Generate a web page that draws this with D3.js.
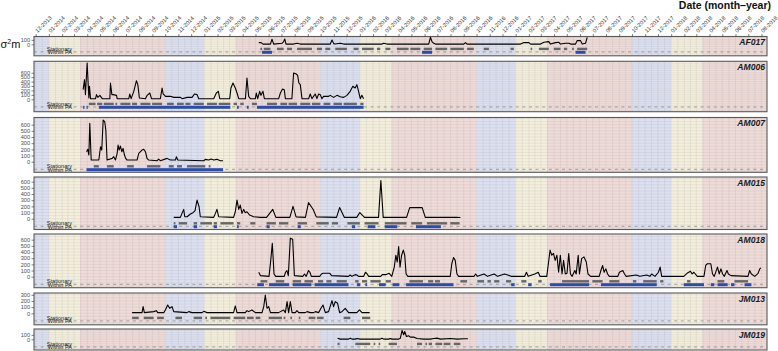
<!DOCTYPE html>
<html><head><meta charset="utf-8">
<script src="https://cdn.jsdelivr.net/npm/d3@7"></script>
<style>body{margin:0;background:#fff;} text{font-family:"Liberation Sans",Arial,Helvetica,sans-serif;}</style>
</head><body><svg id="c" width="778" height="351"></svg>
<script>
// ---------------- DATA ----------------
const monthTicks = ["12-2013","01-2014","02-2014","03-2014","04-2014","05-2014","06-2014","07-2014","08-2014","09-2014","10-2014","11-2014","12-2014",
"01-2015","02-2015","03-2015","04-2015","05-2015","06-2015","07-2015","08-2015","09-2015","10-2015","11-2015","12-2015",
"01-2016","02-2016","03-2016","04-2016","05-2016","06-2016","07-2016","08-2016","09-2016","10-2016","11-2016","12-2016",
"01-2017","02-2017","03-2017","04-2017","05-2017","06-2017","07-2017","08-2017","09-2017","10-2017","11-2017","12-2017",
"01-2018","02-2018","03-2018","04-2018","05-2018","06-2018","07-2018","08-2018"];
const individuals = ["AF017","AM006","AM007","AM015","AM018","JM013","JM019"];
const seasonNames = ["Oct-Dec","Jan-mid Mar","mid Mar-Sep"];
const seasonStarts = [["2013-10-01",0],["2014-01-01",1],["2014-03-15",2],["2014-10-01",0],["2015-01-01",1],["2015-03-15",2],
["2015-10-01",0],["2016-01-01",1],["2016-03-15",2],["2016-10-01",0],["2017-01-01",1],["2017-03-15",2],
["2017-10-01",0],["2018-01-01",1],["2018-03-15",2],["2018-10-01",0]];
const yTicksAF017 = [0,100];
const yTicksAM006 = [0,100,200,300,400,500,600];
const yTicksAM007 = [0,100,200,300,400,500,600];
const yTicksAM015 = [0,100,200,300,400,500,600];
const yTicksAM018 = [0,100,200,300,400,500,600];
const yTicksJM013 = [0,100,200,300];
const yTicksJM019 = [0,100];
const rowLabels = ["Stationary","Within PA"];

// sigma^2 series: [decimal year, value]
const lineAF017 = [[2015.350,38],[2015.365,38],[2015.377,5],[2015.425,5],[2015.435,113],[2015.446,5],[2015.500,23],[2015.510,60],[2015.517,120],[2015.525,5],[2015.574,5],[2015.596,23],[2015.617,5],[2015.810,5],[2015.821,98],[2015.832,15],[2015.842,5],[2015.874,23],[2015.896,5],[2016.143,5],[2016.153,23],[2016.174,5],[2016.442,5],[2016.453,158],[2016.463,60],[2016.474,23],[2016.485,5],[2016.667,5],[2016.678,38],[2016.688,5],[2017.031,5],[2017.053,38],[2017.085,38],[2017.096,5],[2017.160,5],[2017.181,45],[2017.213,60],[2017.224,5],[2017.256,38],[2017.278,45],[2017.288,5],[2017.320,23],[2017.342,23],[2017.353,5],[2017.385,5],[2017.395,83],[2017.417,83],[2017.428,5],[2017.449,23],[2017.460,158]];
const lineAM006 = [[2014.220,217],[2014.229,443],[2014.235,105],[2014.246,819],[2014.257,29],[2014.261,293],[2014.268,14],[2014.300,14],[2014.306,105],[2014.315,44],[2014.328,89],[2014.343,14],[2014.392,14],[2014.396,368],[2014.405,105],[2014.413,105],[2014.435,89],[2014.439,14],[2014.514,14],[2014.520,120],[2014.529,14],[2014.546,180],[2014.563,420],[2014.572,330],[2014.582,29],[2014.621,14],[2014.632,89],[2014.649,142],[2014.660,14],[2014.717,14],[2014.728,255],[2014.735,120],[2014.750,67],[2014.782,67],[2014.803,44],[2014.846,44],[2014.857,14],[2014.889,44],[2014.921,44],[2014.936,120],[2014.953,105],[2014.964,14],[2015.060,14],[2015.077,142],[2015.090,180],[2015.099,14],[2015.163,14],[2015.171,255],[2015.184,368],[2015.199,255],[2015.210,142],[2015.221,14],[2015.264,14],[2015.274,480],[2015.285,67],[2015.296,14],[2015.328,14],[2015.334,142],[2015.343,14],[2015.356,180],[2015.364,89],[2015.377,180],[2015.386,14],[2015.478,14],[2015.489,142],[2015.503,232],[2015.514,217],[2015.521,14],[2015.563,14],[2015.574,593],[2015.591,571],[2015.600,541],[2015.608,368],[2015.617,330],[2015.628,14],[2015.671,14],[2015.681,120],[2015.692,14],[2015.713,120],[2015.724,14],[2015.735,120],[2015.746,105],[2015.756,14],[2015.767,67],[2015.799,67],[2015.810,89],[2015.831,44],[2015.853,89],[2015.874,59],[2015.896,44],[2015.917,89],[2015.938,180],[2015.955,293],[2015.970,255],[2015.981,330],[2015.992,180],[2016.003,14],[2016.013,89],[2016.024,14]];
const lineAM007 = [[2014.242,162],[2014.250,200],[2014.257,108],[2014.263,621],[2014.272,27],[2014.321,27],[2014.332,243],[2014.340,189],[2014.349,675],[2014.359,648],[2014.366,513],[2014.374,27],[2014.407,54],[2014.417,81],[2014.428,27],[2014.439,135],[2014.445,270],[2014.452,189],[2014.460,254],[2014.469,162],[2014.477,216],[2014.486,108],[2014.494,54],[2014.503,27],[2014.567,27],[2014.578,135],[2014.589,162],[2014.599,189],[2014.610,200],[2014.621,162],[2014.631,54],[2014.642,27],[2014.696,16],[2014.706,43],[2014.717,16],[2014.760,54],[2014.781,27],[2014.814,27],[2014.820,81],[2014.829,27],[2014.996,16],[2015.006,38],[2015.028,27],[2015.043,43],[2015.060,27],[2015.081,38],[2015.103,16],[2015.120,16]];
const lineAM015 = [[2014.803,22],[2014.846,22],[2014.856,86],[2014.867,151],[2014.874,32],[2014.889,32],[2014.910,76],[2014.927,97],[2014.940,130],[2014.953,302],[2014.966,194],[2014.974,32],[2015.060,22],[2015.071,86],[2015.081,151],[2015.092,32],[2015.188,22],[2015.199,113],[2015.210,302],[2015.221,151],[2015.231,221],[2015.242,86],[2015.253,151],[2015.263,97],[2015.274,113],[2015.291,59],[2015.317,32],[2015.360,22],[2015.40,22],[2015.44,150],[2015.46,22],[2015.55,22],[2015.57,200],[2015.59,30],[2015.65,22],[2015.67,260],[2015.70,150],[2015.72,30],[2015.85,22],[2015.87,180],[2015.90,22],[2015.98,22],[2016.00,100],[2016.03,22],[2016.12,22],[2016.135,620],[2016.15,22],[2016.30,22],[2016.32,180],[2016.40,180],[2016.42,22],[2016.62,22],[2016.645,20]];
const lineAM018 = [[2015.350,72],[2015.361,17],[2015.416,6],[2015.427,265],[2015.437,542],[2015.448,44],[2015.459,6],[2015.514,6],[2015.522,72],[2015.531,100],[2015.540,17],[2015.553,625],[2015.568,608],[2015.579,17],[2015.633,6],[2015.644,44],[2015.655,6],[2015.670,100],[2015.679,72],[2015.688,6],[2015.742,6],[2015.753,44],[2015.764,55],[2015.807,55],[2015.818,17],[2015.927,6],[2015.938,28],[2015.949,6],[2015.970,33],[2015.981,28],[2015.992,6],[2016.025,6],[2016.036,72],[2016.047,44],[2016.057,6],[2016.134,6],[2016.144,33],[2016.166,33],[2016.188,55],[2016.205,6],[2016.221,155],[2016.231,348],[2016.240,238],[2016.249,487],[2016.258,155],[2016.268,348],[2016.279,431],[2016.288,348],[2016.297,44],[2016.308,6],[2016.580,6],[2016.590,210],[2016.601,310],[2016.612,265],[2016.623,44],[2016.634,6],[2016.732,6],[2016.743,44],[2016.754,6],[2016.797,44],[2016.819,6],[2016.862,44],[2016.884,6],[2016.928,44],[2016.949,28],[2016.971,6],[2017.058,6],[2017.069,72],[2017.080,6],[2017.123,44],[2017.145,72],[2017.156,6],[2017.200,6],[2017.210,210],[2017.221,431],[2017.232,348],[2017.243,376],[2017.254,265],[2017.265,348],[2017.276,72],[2017.287,348],[2017.298,44],[2017.308,265],[2017.319,44],[2017.330,55],[2017.341,376],[2017.352,44],[2017.363,6],[2017.380,100],[2017.389,44],[2017.402,348],[2017.410,44],[2017.424,293],[2017.439,321],[2017.454,238],[2017.465,44],[2017.482,6],[2017.537,6],[2017.548,100],[2017.559,182],[2017.569,72],[2017.580,127],[2017.591,44],[2017.602,6],[2017.657,6],[2017.667,72],[2017.689,100],[2017.700,44],[2017.711,6],[2017.776,28],[2017.798,6],[2017.842,28],[2017.863,6],[2017.874,44],[2017.896,6],[2017.918,72],[2017.929,155],[2017.939,6],[2018.081,6],[2018.102,55],[2018.124,88],[2018.135,44],[2018.146,72],[2018.168,6],[2018.211,6],[2018.222,182],[2018.233,210],[2018.255,210],[2018.266,44],[2018.277,6],[2018.298,155],[2018.309,44],[2018.320,127],[2018.331,44],[2018.342,6],[2018.359,100],[2018.368,44],[2018.385,17],[2018.494,6],[2018.505,100],[2018.516,44],[2018.538,6],[2018.559,55],[2018.570,127],[2018.577,144]];
const lineJM013 = [[2014.535,11],[2014.599,11],[2014.606,108],[2014.614,11],[2014.674,27],[2014.691,43],[2014.700,11],[2014.739,11],[2014.749,54],[2014.764,135],[2014.777,81],[2014.792,108],[2014.803,27],[2014.888,11],[2014.899,27],[2014.921,11],[2014.985,11],[2014.996,32],[2015.017,11],[2015.188,11],[2015.199,119],[2015.210,11],[2015.263,11],[2015.274,43],[2015.285,27],[2015.306,54],[2015.328,11],[2015.371,11],[2015.382,108],[2015.392,297],[2015.403,81],[2015.414,108],[2015.425,11],[2015.478,11],[2015.489,27],[2015.510,54],[2015.521,11],[2015.532,189],[2015.542,11],[2015.553,189],[2015.564,11],[2015.585,11],[2015.596,43],[2015.607,11],[2015.649,11],[2015.660,27],[2015.682,11],[2015.703,11],[2015.714,27],[2015.735,11],[2015.750,81],[2015.763,135],[2015.778,11],[2015.799,27],[2015.821,205],[2015.831,108],[2015.842,189],[2015.857,162],[2015.870,11],[2015.885,27],[2015.906,81],[2015.928,11],[2015.981,11],[2015.998,54],[2016.014,11],[2016.063,11]];
const lineJM019 = [[2015.857,26],[2015.874,4],[2015.928,4],[2015.939,26],[2015.949,4],[2015.971,4],[2015.981,19],[2016.003,4],[2016.131,4],[2016.142,26],[2016.153,4],[2016.185,4],[2016.196,19],[2016.206,4],[2016.249,4],[2016.260,26],[2016.271,199],[2016.281,102],[2016.288,177],[2016.299,64],[2016.313,79],[2016.324,49],[2016.346,49],[2016.367,19],[2016.410,4],[2016.453,4],[2016.474,19],[2016.496,26],[2016.517,4],[2016.581,19],[2016.624,4],[2016.667,11],[2016.693,11]];

// Stationary periods: [start, end] decimal years
const statAF017 = [[2015.360,2015.371],[2015.382,2015.425],[2015.467,2015.510],[2015.532,2015.564],[2015.596,2015.692],[2015.724,2015.757],[2015.778,2015.810],[2015.842,2015.917],[2015.960,2015.992],[2016.014,2016.089],[2016.110,2016.131],[2016.164,2016.196],[2016.238,2016.313],[2016.324,2016.388],[2016.410,2016.463],[2016.485,2016.560],[2016.581,2016.667],[2016.688,2016.731],[2016.795,2016.828],[2016.967,2016.988],[2017.096,2017.106],[2017.149,2017.213],[2017.245,2017.288],[2017.310,2017.331],[2017.363,2017.374],[2017.395,2017.460]];
const statAM006 = [[2014.257,2014.300],[2014.310,2014.343],[2014.353,2014.417],[2014.428,2014.439],[2014.460,2014.524],[2014.535,2014.567],[2014.589,2014.653],[2014.664,2014.728],[2014.760,2014.803],[2014.824,2014.867],[2014.878,2014.910],[2014.931,2014.996],[2015.017,2015.081],[2015.092,2015.167],[2015.188,2015.210],[2015.231,2015.253],[2015.306,2015.338],[2015.403,2015.467],[2015.489,2015.532],[2015.542,2015.596],[2015.617,2015.681],[2015.692,2015.746],[2015.767,2015.810],[2015.831,2015.885],[2015.896,2015.981],[2016.003,2016.024]];
const statAM007 = [[2014.289,2014.321],[2014.374,2014.417],[2014.503,2014.546],[2014.631,2014.717],[2014.771,2014.803],[2014.824,2014.856],[2014.888,2015.006],[2015.028,2015.039]];
const statAM015 = [[2014.803,2014.814],[2014.835,2014.889],[2014.931,2014.953],[2014.974,2015.049],[2015.060,2015.081],[2015.103,2015.188],[2015.210,2015.231],[2015.295,2015.328],[2015.40,2015.46],[2015.48,2015.54],[2015.60,2015.66],[2015.72,2015.80],[2015.82,2015.86],[2015.92,2016.00],[2016.03,2016.12],[2016.16,2016.30],[2016.33,2016.40],[2016.43,2016.56],[2016.58,2016.64]];
const statAM018 = [[2015.361,2015.405],[2015.459,2015.514],[2015.568,2015.622],[2015.644,2015.698],[2015.731,2015.764],[2015.785,2015.818],[2015.851,2015.916],[2015.970,2015.992],[2016.014,2016.047],[2016.068,2016.134],[2016.166,2016.199],[2016.318,2016.405],[2016.438,2016.471],[2016.482,2016.514],[2016.645,2016.688],[2016.754,2016.797],[2016.819,2016.841],[2016.862,2016.895],[2016.938,2016.971],[2017.036,2017.069],[2017.145,2017.167],[2017.298,2017.472],[2017.493,2017.559],[2017.602,2017.667],[2017.754,2017.776],[2017.820,2017.907],[2017.929,2017.950],[2018.102,2018.124],[2018.298,2018.342],[2018.407,2018.494]];
const statJM013 = [[2014.535,2014.578],[2014.610,2014.674],[2014.696,2014.739],[2014.814,2014.856],[2014.931,2014.985],[2015.006,2015.017],[2015.039,2015.167],[2015.188,2015.263],[2015.274,2015.317],[2015.330,2015.360],[2015.414,2015.499],[2015.510,2015.521],[2015.553,2015.564],[2015.607,2015.617],[2015.671,2015.714],[2015.724,2015.767],[2015.896,2015.939],[2016.014,2016.067]];
const statJM019 = [[2015.857,2015.870],[2015.971,2016.067],[2016.089,2016.099],[2016.121,2016.131],[2016.185,2016.238],[2016.367,2016.399],[2016.421,2016.431],[2016.442,2016.463],[2016.485,2016.528],[2016.538,2016.581],[2016.603,2016.645]];

// Within protected area periods
const paAF017 = [[2015.371,2015.435],[2016.399,2016.463],[2017.385,2017.449]];
const paAM006 = [[2014.220,2014.229],[2014.242,2014.250],[2014.321,2015.167],[2015.210,2015.221],[2015.274,2015.285],[2015.338,2016.024]];
const paAM007 = [[2014.242,2015.120]];
const paAM015 = [[2014.803,2014.824],[2014.931,2014.953],[2015.060,2015.081],[2015.210,2015.221],[2015.40,2015.42],[2015.60,2015.62],[2015.95,2015.97],[2016.05,2016.10],[2016.16,2016.24],[2016.36,2016.52]];
const paAM018 = [[2015.340,2015.383],[2015.416,2015.546],[2015.568,2015.688],[2015.709,2015.927],[2015.981,2016.003],[2016.036,2016.047],[2016.123,2016.166],[2016.210,2016.253],[2016.297,2016.601],[2016.971,2016.993],[2017.080,2017.102],[2017.221,2017.472],[2017.548,2017.907],[2018.081,2018.211],[2018.255,2018.277],[2018.298,2018.363],[2018.385,2018.407],[2018.472,2018.516]];
const paJM013 = [];
const paJM019 = [];

// ---------------- RENDER ----------------
const series = {
  AF017:{line:lineAF017,stat:statAF017,pa:paAF017,ticks:yTicksAF017},
  AM006:{line:lineAM006,stat:statAM006,pa:paAM006,ticks:yTicksAM006},
  AM007:{line:lineAM007,stat:statAM007,pa:paAM007,ticks:yTicksAM007},
  AM015:{line:lineAM015,stat:statAM015,pa:paAM015,ticks:yTicksAM015},
  AM018:{line:lineAM018,stat:statAM018,pa:paAM018,ticks:yTicksAM018},
  JM013:{line:lineJM013,stat:statJM013,pa:paJM013,ticks:yTicksJM013},
  JM019:{line:lineJM019,stat:statJM019,pa:paJM019,ticks:yTicksJM019}
};
const layout = {
  AF017:{top:36.5,bottom:55.8,zero:44.3,k:4.43},
  AM006:{top:61.3,bottom:111.7,zero:99.3,k:4.43},
  AM007:{top:117.5,bottom:172.3,zero:161.7,k:6.17},
  AM015:{top:177,bottom:229.5,zero:218.7,k:6.17},
  AM018:{top:234,bottom:287.7,zero:276.7,k:6.17},
  JM013:{top:293,bottom:324.8,zero:313.3,k:6.17},
  JM019:{top:329,bottom:350,zero:339.3,k:4.43}
};
const seasonColors = ["#dde0f0","#f4efdd","#efdcd9"];

const toDate = t => { const yr = Math.floor(t); const s = new Date(yr,0,1), e = new Date(yr+1,0,1); return new Date(+s + (t-yr)*(e-s)); };
const parseM = d3.timeParse("%m-%Y");
const parseD = d3.timeParse("%Y-%m-%d");
const monthDates = monthTicks.map(parseM);
const x = d3.scaleTime().domain([new Date(2013,10,27), new Date(2018,7,14)]).range([34,767]);
const X0 = x.range()[0], X1 = x.range()[1];
const svg = d3.select("#c");
const defs = svg.append("defs");

const allMonths = d3.timeMonth.range(new Date(2013,10,1), new Date(2018,8,1));
const minorDates = allMonths.map(d => new Date((+d + +d3.timeMonth.offset(d,1))/2));

individuals.forEach((id, idx) => {
  const L = layout[id], S = series[id];
  const y = d3.scaleLinear().domain([0,100]).range([L.zero, L.zero - L.k]);
  const g = svg.append("g");
  defs.append("clipPath").attr("id","clip"+idx).append("rect")
    .attr("x",X0).attr("y",L.top).attr("width",X1-X0).attr("height",L.bottom-L.top);
  const pg = g.append("g").attr("clip-path","url(#clip"+idx+")");
  seasonStarts.forEach((s,i) => {
    if (i === seasonStarts.length-1) return;
    const a = x(parseD(s[0])), b = x(parseD(seasonStarts[i+1][0]));
    pg.append("rect").attr("x",a).attr("y",L.top).attr("width",b-a).attr("height",L.bottom-L.top)
      .attr("fill",seasonColors[s[1]]);
  });
  const gridC = "rgba(140,140,140,0.22)";
  minorDates.concat(allMonths).forEach(d => {
    pg.append("line").attr("x1",x(d)).attr("x2",x(d)).attr("y1",L.top).attr("y2",L.bottom)
      .attr("stroke",gridC).attr("stroke-width",0.6);
  });
  const yMin = y.invert(L.bottom), yMax = y.invert(L.top);
  for (let v = Math.ceil(yMin/50)*50; v <= yMax; v += 50) {
    pg.append("line").attr("x1",X0).attr("x2",X1).attr("y1",y(v)).attr("y2",y(v))
      .attr("stroke",gridC).attr("stroke-width",0.6);
  }
  const rowStat = L.zero + 4.6, rowPA = L.zero + 8;
  pg.append("line").attr("x1",X0).attr("x2",X1).attr("y1",L.zero+7.6).attr("y2",L.zero+7.6)
    .attr("stroke","#8c8c8c").attr("stroke-width",0.8).attr("stroke-dasharray","3,3.6");
  pg.selectAll(".st").data(S.stat).enter().append("rect")
    .attr("x",d=>x(toDate(d[0]))).attr("width",d=>Math.max(1,x(toDate(d[1]))-x(toDate(d[0]))))
    .attr("y",rowStat-1.2).attr("height",2.4).attr("fill","#666");
  pg.selectAll(".pa").data(S.pa).enter().append("rect")
    .attr("x",d=>x(toDate(d[0]))).attr("width",d=>Math.max(1,x(toDate(d[1]))-x(toDate(d[0]))))
    .attr("y",rowPA-1.5).attr("height",3).attr("fill","#2a4cb2");
  const line = d3.line().x(d=>x(toDate(d[0]))).y(d=>y(d[1]));
  pg.append("path").attr("d",line(S.line)).attr("fill","none").attr("stroke","#000")
    .attr("stroke-width",1.1).attr("stroke-linejoin","round");
  g.append("text").attr("x",72).attr("y",rowStat).attr("dy","0.35em").attr("text-anchor","end")
    .attr("font-size",5.6).attr("fill","#222").text(rowLabels[0]);
  g.append("text").attr("x",72).attr("y",rowPA).attr("dy","0.35em").attr("text-anchor","end")
    .attr("font-size",5.6).attr("fill","#222").text(rowLabels[1]);
  g.append("rect").attr("x",X0).attr("y",L.top).attr("width",X1-X0).attr("height",L.bottom-L.top)
    .attr("fill","none").attr("stroke","#595959").attr("stroke-width",1.1);
  g.append("text").attr("x",765).attr("y",L.top+8.5).attr("text-anchor","end")
    .attr("font-size",8.6).attr("font-weight","bold").attr("font-style","italic").attr("fill","#1a1a1a").text(id);
  const ax = g.append("g").attr("transform",`translate(${X0},0)`)
    .call(d3.axisLeft(y).tickValues(S.ticks).tickSize(2.5).tickPadding(1.5));
  ax.select(".domain").remove();
  ax.selectAll("line").attr("stroke","#333").attr("stroke-width",0.6);
  ax.selectAll("text").attr("font-size",5.6).attr("fill","#4d4d4d").attr("font-family","Liberation Sans, Arial, sans-serif");
});

const topY = layout.AF017.top;
const tax = svg.append("g").attr("transform",`translate(0,${topY})`)
  .call(d3.axisTop(x).tickValues(monthDates).tickSize(2.5).tickFormat((d,i)=>monthTicks[i]));
tax.select(".domain").remove();
tax.selectAll("line").attr("stroke","#333").attr("stroke-width",0.6);
tax.selectAll("text").attr("x",0).attr("y",0).attr("dy","0.35em")
  .attr("transform","translate(0,-5) rotate(-45)").attr("text-anchor","start")
  .attr("font-size",5.6).attr("fill","#333").attr("font-family","Liberation Sans, Arial, sans-serif");

svg.append("text").attr("x",771).attr("y",9).attr("text-anchor","end")
  .attr("font-size",10.5).attr("font-weight","bold").attr("fill","#111").text("Date (month\u2013year)");
const yl = svg.append("text").attr("x",0.5).attr("y",47.5).attr("font-size",11).attr("fill","#111");
yl.append("tspan").text("\u03c3");
yl.append("tspan").attr("font-size",7).attr("dy",-4).text("2");
yl.append("tspan").attr("dy",4).text("m");
</script></body></html>
